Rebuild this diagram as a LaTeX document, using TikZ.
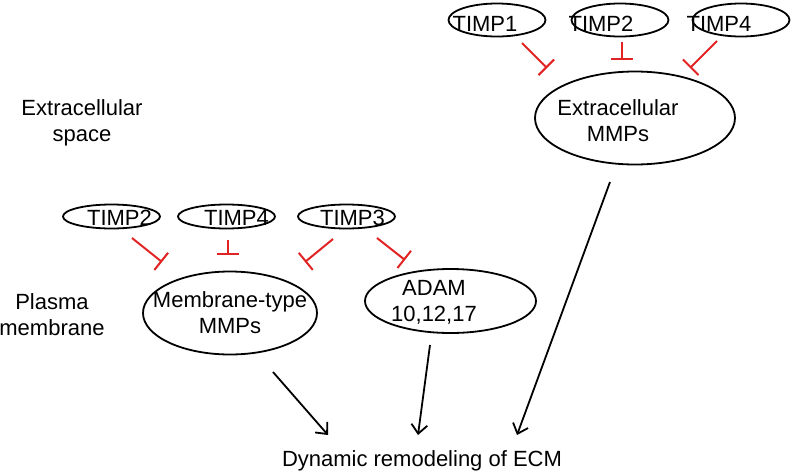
\documentclass[tikz,border=0pt]{standalone}
\usepackage{fontspec}
\setmainfont{Liberation Sans}
\usetikzlibrary{shapes.geometric,arrows.meta}
\definecolor{inhred}{RGB}{225,35,35}
\begin{document}
\begin{tikzpicture}[x=1pt,y=-1pt,
  every node/.style={font=\fontsize{22}{26}\selectfont},
  oval/.style={ellipse,draw,line width=1.8pt,inner sep=0pt},
  timptop/.style={oval,minimum width=97pt,minimum height=33pt},
  timpbot/.style={oval,minimum width=97pt,minimum height=24pt},
  txt/.style={inner sep=0pt,align=center},
  inh/.style={draw=inhred,line width=2pt,-{Bar[width=22pt,line width=2pt]}},
  act/.style={draw=black,line width=1.8pt,-{Straight Barb[length=9pt,width=16pt,line width=1.8pt]}}
]
\useasboundingbox (0,0) rectangle (793,472);

% top group
\node[timptop,label={[xshift=-12pt,yshift=-4pt]center:TIMP1}] (t1) at (497,20) {};
\node[timptop,label={[xshift=-19pt,yshift=-4pt]center:TIMP2}] (t2) at (620,20) {};
\node[timptop,label={[xshift=-22pt,yshift=-4pt]center:TIMP4}] (t4) at (741,20) {};
\node[oval,minimum width=200pt,minimum height=93pt,
      label={[xshift=-17pt,yshift=-3pt,align=center]center:Extracellular\\MMPs}] (em) at (635,118) {};

% bottom group
\node[timpbot,label={[xshift=8pt,yshift=-1pt]center:TIMP2}] (b2) at (111.5,216.5) {};
\node[timpbot,label={[xshift=10pt,yshift=-1pt]center:TIMP4}] (b4) at (226.5,216.5) {};
\node[timpbot,label={[xshift=6pt,yshift=-1pt]center:TIMP3}] (b3) at (346.5,216.5) {};
\node[oval,minimum width=174pt,minimum height=83pt,
      label={[yshift=0pt,align=center]center:Membrane-type\\MMPs}] (mt) at (230,313) {};
\node[oval,minimum width=171pt,minimum height=64pt,
      label={[xshift=-16.5pt,yshift=-1pt,align=center]center:ADAM\\10,12,17}] (adam) at (450.5,301) {};

% side labels and result
\node[txt] (ext) at (82,123) {Extracellular\\space};
\node[txt] (pm) at (52,315) {Plasma\\membrane};
\node[txt] (dyn) at (422,461) {Dynamic remodeling of ECM};

% inhibitions
\draw[inh] ([shift={(25,23)}]t1.center) -- ([shift={(-88,-50)}]em.center);
\draw[inh] ([shift={(2,22)}]t2.center) -- ([shift={(-13,-58)}]em.center);
\draw[inh] ([shift={(-24,21)}]t4.center) -- ([shift={(55,-50)}]em.center);
\draw[inh] ([shift={(20.5,21.5)}]b2.center) -- ([shift={(-68,-51)}]mt.center);
\draw[inh] ([shift={(1.5,23.5)}]b4.center) -- ([shift={(-2,-58)}]mt.center);
\draw[inh] ([shift={(-13.5,22.5)}]b3.center) -- ([shift={(75,-51)}]mt.center);
\draw[inh] ([shift={(30.5,21.5)}]b3.center) -- ([shift={(-45.5,-41)}]adam.center);

% activations
\draw[act] ([shift={(43,59)}]mt.center) -- ([shift={(-94,-26)}]dyn.center);
\draw[act] ([shift={(-20.5,44)}]adam.center) -- ([shift={(-4,-26)}]dyn.center);
\draw[act] ([shift={(-25,64)}]em.center) -- ([shift={(95,-26)}]dyn.center);
\end{tikzpicture}
\end{document}
